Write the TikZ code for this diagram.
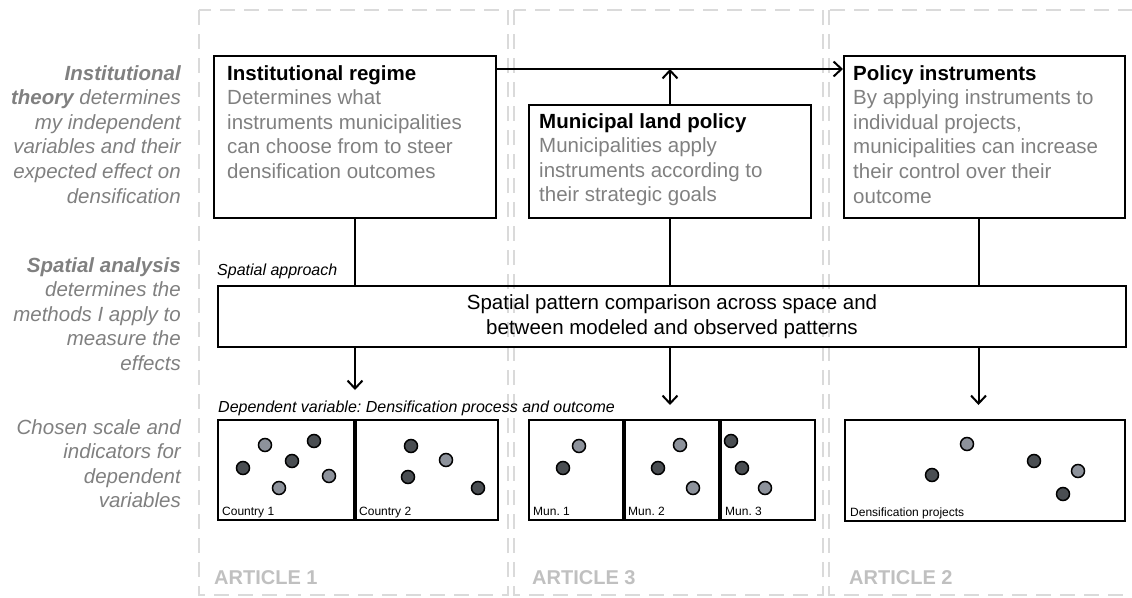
\documentclass[tikz,border=0pt]{standalone}
\usepackage{fontspec}
\setmainfont{Liberation Sans}
\usepackage{tikz}
\usetikzlibrary{arrows.meta,calc,positioning}
\definecolor{textgray}{HTML}{808080}
\definecolor{colgray}{HTML}{DADADA}
\definecolor{artgray}{HTML}{C0C0C0}
\definecolor{dotdark}{HTML}{4A4E52}
\definecolor{dotlight}{HTML}{8D929B}
\frenchspacing

\begin{document}
\begin{tikzpicture}[x=1pt, y=-1pt,
  every node/.style={font=\fontsize{20.5}{24.6}\selectfont},
  column/.style={draw=colgray, line width=2pt, dash pattern=on 15pt off 9pt},
  box/.style={draw, line width=2pt, rectangle, inner sep=0, anchor=north west},
  boxtext/.style={anchor=base west, align=left, inner sep=0, text=textgray},
  anno/.style={anchor=base east, align=right, inner sep=0, text=textgray, font=\itshape\fontsize{20.5}{24.6}\selectfont},
  small/.style={anchor=base west, inner sep=0, font=\itshape\fontsize{16}{19}\selectfont},
  panel/.style={anchor=base west, inner sep=0, font=\fontsize{12}{14}\selectfont},
  article/.style={anchor=base west, inner sep=0, text=artgray, font=\bfseries\fontsize{20}{24}\selectfont},
  dot/.style={circle, draw, line width=1.5pt, minimum size=13pt, inner sep=0},
  arr/.style={line width=2pt, -{Straight Barb[length=8pt,width=15pt,line width=2pt]}},
  link/.style={line width=2pt}]
\useasboundingbox (0,0) rectangle (1132,597);
\clip (0,0) rectangle (1132,597);

% article columns
\draw[column] (199,10) rectangle (508,595);
\draw[column] (514,10) rectangle (823,595);
\draw[column] (829,10) rectangle (1140,595);
\node[article] (art1) at (214,584) {ARTICLE 1};
\node[article] (art3) at (532,584) {ARTICLE 3};
\node[article] (art2) at (849,584) {ARTICLE 2};

% row annotations on the left (placed by the baseline of their last line)
\node[anno] (theory) at (181,203) {{\bfseries Institutional}\\{\bfseries theory} determines\\my independent\\variables and their\\expected effect on\\densification};
\node[anno] (method) at (181,370.4) {{\bfseries Spatial analysis}\\determines the\\methods I apply to\\measure the\\effects};
\node[anno] (scale) at (181,507.8) {Chosen scale and\\indicators for\\dependent\\variables};

% independent variables
\node[box, minimum width=282pt, minimum height=162pt] (inst) at (213,55) {};
\node[boxtext] (insttxt) at (227,178.4) {\textbf{\color{black}Institutional regime}\\Determines what\\instruments municipalities\\can choose from to steer\\densification outcomes};
\node[box, minimum width=282pt, minimum height=113pt] (mun) at (528,104) {};
\node[boxtext] (muntxt) at (539,201.8) {\textbf{\color{black}Municipal land policy}\\Municipalities apply\\instruments according to\\their strategic goals};
\node[box, minimum width=281pt, minimum height=162pt] (pol) at (843,55) {};
\node[boxtext] (poltxt) at (853,203) {\textbf{\color{black}Policy instruments}\\By applying instruments to\\individual projects,\\municipalities can increase\\their control over their\\outcome};

% method
\node[small] (approach) at (217,275) {Spatial approach};
\node[box, minimum width=908pt, minimum height=61pt, align=center, font=\fontsize{20.5}{25}\selectfont] (spat) at (217,285) {Spatial pattern comparison across space and\\between modeled and observed patterns};

% dependent variable panels
\node[small] (depvar) at (218,412) {Dependent variable: Densification process and outcome};
\node[box, minimum width=136pt, minimum height=100pt] (c1) at (217,419) {};
\node[box, minimum width=142pt, minimum height=100pt] (c2) at (c1.north east) {};
\node[box, minimum width=94pt, minimum height=100pt] (m1) at (528,419) {};
\node[box, minimum width=94pt, minimum height=100pt] (m2) at (m1.north east) {};
\node[box, minimum width=94pt, minimum height=100pt] (m3) at (m2.north east) {};
\node[box, minimum width=280pt, minimum height=101pt] (dens) at (844,419) {};
\node[panel] (c1lab) at ($(c1.south west)+(5,-6)$) {Country 1};
\node[panel] (c2lab) at ($(c2.south west)+(4,-6)$) {Country 2};
\node[panel] (m1lab) at ($(m1.south west)+(5,-6)$) {Mun. 1};
\node[panel] (m2lab) at ($(m2.south west)+(4,-6)$) {Mun. 2};
\node[panel] (m3lab) at ($(m3.south west)+(5,-6)$) {Mun. 3};
\node[panel] (denslab) at ($(dens.south west)+(6,-6)$) {Densification projects};

% observations
\foreach \x/\y/\c [count=\i] in {265/445/dotlight, 314/441/dotdark, 292/461/dotdark, 243/468/dotdark,
    329/476/dotlight, 279/488/dotlight, 411/446/dotdark, 446/460/dotlight, 408/477/dotdark, 478/488/dotdark,
    579/446/dotlight, 563/468/dotdark, 680/445/dotlight, 658/468/dotdark, 693/488/dotlight,
    731/441/dotdark, 742/468/dotdark, 765/488/dotlight, 967/444/dotlight, 932/475/dotdark,
    1034/461/dotdark, 1078/471/dotlight, 1063/494/dotdark}{
  \node[dot, fill=\c] (dot\i) at (\x,\y) {};
}

% connectors
\draw[arr] (inst.north east) ++(0,14) coordinate (top) -- (top -| pol.west);
\draw[arr] (mun.north) -- (mun.north |- top);
\coordinate (polfoot) at ([xshift=-6pt]pol.south);
\draw[link] (inst.south) -- (inst.south |- spat.north);
\draw[link] (mun.south) -- (mun.south |- spat.north);
\draw[link] (polfoot) -- (polfoot |- spat.north);
\draw[arr, shorten >=29pt] (inst.south |- spat.south) -- (inst.south |- c1.north);
\draw[arr, shorten >=14pt] (mun.south |- spat.south) -- (mun.south |- m2.north);
\draw[arr, shorten >=14pt] (polfoot |- spat.south) -- (polfoot |- dens.north);
\end{tikzpicture}
\end{document}
